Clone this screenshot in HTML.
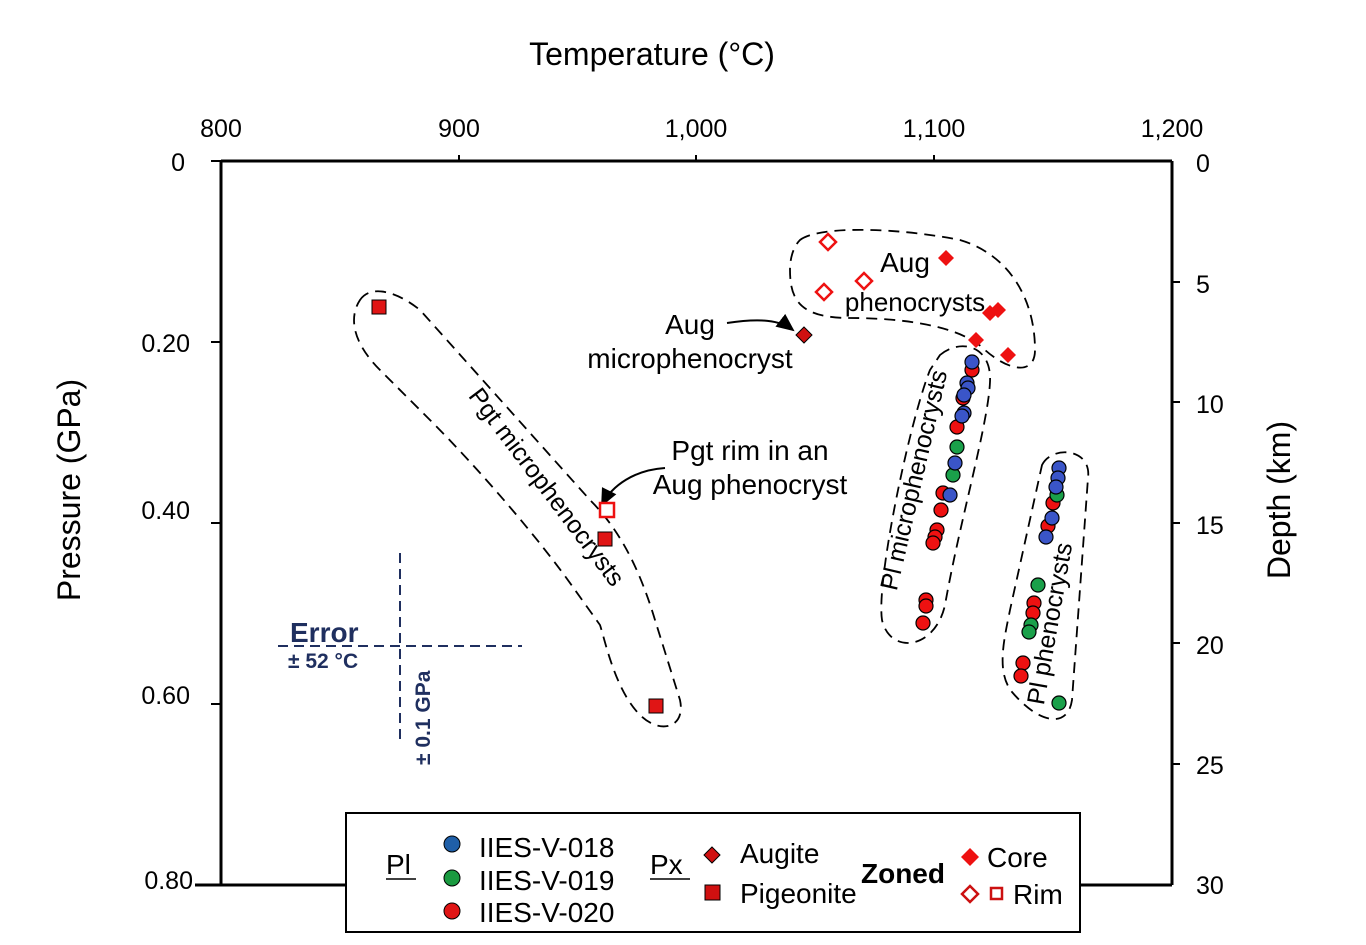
<!DOCTYPE html>
<html><head><meta charset="utf-8"><style>
html,body{margin:0;padding:0;background:#fff;}
svg{display:block;font-family:"Liberation Sans",Arial,sans-serif;}
</style></head><body>
<svg width="1366" height="945" viewBox="0 0 1366 945" xmlns="http://www.w3.org/2000/svg">
<defs>
<marker id="ah" markerWidth="10" markerHeight="10" refX="8" refY="5" orient="auto"><path d="M0,1 L9,5 L0,9 Z" fill="#000"/></marker>
</defs>
<g stroke="#000" stroke-width="3" fill="none">
<line x1="221" y1="161" x2="1172" y2="161"/>
<line x1="221" y1="161" x2="221" y2="885"/>
<line x1="1172" y1="161" x2="1172" y2="885"/>
<line x1="195" y1="885" x2="346" y2="885"/>
<line x1="1080" y1="885" x2="1172" y2="885"/>
</g>
<g stroke="#000" stroke-width="2">
<line x1="459" y1="155" x2="459" y2="161"/><line x1="696" y1="155" x2="696" y2="161"/><line x1="934" y1="155" x2="934" y2="161"/>
<line x1="211" y1="161" x2="221" y2="161"/><line x1="211" y1="342" x2="221" y2="342"/><line x1="211" y1="523" x2="221" y2="523"/><line x1="211" y1="704" x2="221" y2="704"/>
<line x1="1172" y1="282" x2="1180" y2="282"/><line x1="1172" y1="402" x2="1180" y2="402"/><line x1="1172" y1="523" x2="1180" y2="523"/><line x1="1172" y1="643" x2="1180" y2="643"/><line x1="1172" y1="764" x2="1180" y2="764"/>
</g>
<g font-size="25" fill="#000" text-anchor="middle">
<text x="221" y="137">800</text><text x="459" y="137">900</text><text x="696" y="137">1,000</text><text x="934" y="137">1,100</text><text x="1172" y="137">1,200</text>
</g>
<g font-size="25" fill="#000" text-anchor="end">
<text x="185" y="171">0</text><text x="190" y="352">0.20</text><text x="190" y="519">0.40</text><text x="190" y="704">0.60</text><text x="193" y="889">0.80</text>
</g>
<g font-size="25" fill="#000" text-anchor="start">
<text x="1196" y="172">0</text><text x="1196" y="293">5</text><text x="1196" y="413">10</text><text x="1196" y="534">15</text><text x="1196" y="654">20</text><text x="1196" y="774">25</text><text x="1196" y="894">30</text>
</g>
<text x="652" y="65" font-size="32" text-anchor="middle">Temperature (°C)</text>
<text transform="translate(80,490) rotate(-90)" font-size="32" text-anchor="middle">Pressure (GPa)</text>
<text transform="translate(1290,500) rotate(-90)" font-size="32" text-anchor="middle">Depth  (km)</text>

<g fill="none" stroke="#000" stroke-width="1.8" stroke-dasharray="11,7">
<path d="M800,240 C820,225 900,228 960,240 C1010,255 1035,300 1035,350 C1035,375 1010,372 985,350 C960,325 900,318 850,318 C800,318 790,300 790,270 C790,255 795,245 800,240 Z"/>
<path d="M360,300 C370,285 395,290 420,310 L590,500 C620,530 640,570 655,620 L680,700 C686,728 660,735 640,715 C615,690 605,640 600,625 L575,590 C540,540 480,470 430,420 L380,370 C350,340 350,315 360,300 Z"/>
<path d="M940,355 C960,338 992,345 990,382 C988,425 960,520 945,605 C935,650 890,655 882,620 C876,580 910,420 930,370 Z"/>
<path d="M1042,465 C1052,445 1092,448 1088,478 L1072,700 C1068,728 1040,725 1012,692 C996,672 1004,640 1010,610 Z"/>
</g>
<g font-size="25" fill="#000">
<text transform="translate(540,492) rotate(53)" text-anchor="middle">Pgt microphenocrysts</text>
<text transform="translate(922,482) rotate(-77)" text-anchor="middle">Pl microphenocrysts</text>
<text transform="translate(1058,625) rotate(-80)" text-anchor="middle">Pl phenocrysts</text>
<text x="905" y="272" font-size="28" text-anchor="middle">Aug</text>
<text x="915" y="311" font-size="26" text-anchor="middle">phenocrysts</text>
<text x="690" y="334" font-size="28" text-anchor="middle">Aug</text>
<text x="690" y="368" font-size="28" text-anchor="middle">microphenocryst</text>
<text x="750" y="460" font-size="28" text-anchor="middle">Pgt rim in an</text>
<text x="750" y="494" font-size="28" text-anchor="middle">Aug phenocryst</text>
</g>
<g fill="none" stroke="#000" stroke-width="2">
<path d="M727,323 C760,318 780,320 793,330" marker-end="url(#ah)"/>
<path d="M665,468 C635,470 612,485 602,505" marker-end="url(#ah)"/>
</g>
<g stroke="#1f2f5f" stroke-width="2" stroke-dasharray="10,6" fill="none">
<line x1="278" y1="646" x2="522" y2="646"/><line x1="400" y1="553" x2="400" y2="740"/>
</g>
<g fill="#1f2f5f" font-weight="bold">
<text x="290" y="642" font-size="28">Error</text>
<text x="288" y="668" font-size="21">± 52 °C</text>
<text transform="translate(430,765) rotate(-90)" font-size="21">± 0.1 GPa</text>
</g>
<g stroke="#000" stroke-width="1.2">
<g fill="#ee1111">
<circle cx="972" cy="370" r="7"/><circle cx="963" cy="398" r="7"/><circle cx="957" cy="427" r="7"/><circle cx="943" cy="493" r="7"/><circle cx="941" cy="510" r="7"/><circle cx="937" cy="530" r="7"/><circle cx="935" cy="537" r="7"/><circle cx="933" cy="543" r="7"/><circle cx="926" cy="600" r="7"/><circle cx="926" cy="606" r="7"/><circle cx="923" cy="623" r="7"/>
<circle cx="1053" cy="503" r="7"/><circle cx="1048" cy="526" r="7"/><circle cx="1034" cy="603" r="7"/><circle cx="1033" cy="613" r="7"/><circle cx="1023" cy="663" r="7"/><circle cx="1021" cy="676" r="7"/>
</g>
<g fill="#1aa04a">
<circle cx="957" cy="447" r="7"/><circle cx="953" cy="475" r="7"/><circle cx="1057" cy="495" r="7"/><circle cx="1038" cy="585" r="7"/><circle cx="1031" cy="625" r="7"/><circle cx="1029" cy="632" r="7"/><circle cx="1059" cy="703" r="7"/>
</g>
<g fill="#3a55c8">
<circle cx="972" cy="362" r="7"/><circle cx="967" cy="383" r="7"/><circle cx="968" cy="388" r="7"/><circle cx="964" cy="395" r="7"/><circle cx="964" cy="413" r="7"/><circle cx="962" cy="416" r="7"/><circle cx="955" cy="463" r="7"/><circle cx="950" cy="495" r="7"/>
<circle cx="1059" cy="468" r="7"/><circle cx="1058" cy="478" r="7"/><circle cx="1056" cy="487" r="7"/><circle cx="1052" cy="518" r="7"/><circle cx="1046" cy="537" r="7"/>
</g>
</g>
<g fill="#ee1111" stroke="none">
<path d="M946,250 l8,8 l-8,8 l-8,-8 Z"/><path d="M990,305 l8,8 l-8,8 l-8,-8 Z"/><path d="M998,302 l8,8 l-8,8 l-8,-8 Z"/><path d="M976,332 l8,8 l-8,8 l-8,-8 Z"/><path d="M1008,347 l8,8 l-8,8 l-8,-8 Z"/>
</g>
<path d="M804,327 l8,8 l-8,8 l-8,-8 Z" fill="#d01010" stroke="#000" stroke-width="1"/>
<g fill="#fff" stroke="#ee1111" stroke-width="2.5">
<path d="M828,234 l8,8 l-8,8 l-8,-8 Z"/><path d="M864,273 l8,8 l-8,8 l-8,-8 Z"/><path d="M824,284 l8,8 l-8,8 l-8,-8 Z"/>
<rect x="600" y="503" width="14" height="14"/>
</g>
<g fill="#e01515" stroke="#000" stroke-width="1">
<rect x="372" y="300" width="14" height="14"/><rect x="598" y="532" width="14" height="14"/><rect x="649" y="699" width="14" height="14"/>
</g>
<rect x="346" y="813" width="734" height="119" fill="#fff" stroke="#000" stroke-width="2"/>
<g font-size="28" fill="#000">
<text x="386" y="874">Pl</text><line x1="386" y1="879" x2="416" y2="879" stroke="#000" stroke-width="1.5"/>
<text x="479" y="857">IIES-V-018</text><text x="479" y="890">IIES-V-019</text><text x="479" y="922">IIES-V-020</text>
<text x="650" y="874">Px</text><line x1="650" y1="879" x2="690" y2="879" stroke="#000" stroke-width="1.5"/>
<text x="740" y="863">Augite</text><text x="740" y="903">Pigeonite</text>
<text x="861" y="883" font-weight="bold">Zoned</text>
<text x="987" y="867">Core</text><text x="1013" y="904">Rim</text>
</g>
<circle cx="452" cy="844" r="8" fill="#1f5fa8" stroke="#000"/>
<circle cx="452" cy="878" r="8" fill="#1a9a40" stroke="#000"/>
<circle cx="452" cy="911" r="8" fill="#e01515" stroke="#000"/>
<path d="M712,847 l8,8 l-8,8 l-8,-8 Z" fill="#d01010" stroke="#000"/>
<rect x="705" y="885" width="15" height="15" fill="#d01010" stroke="#000"/>
<path d="M970,848 l9,9 l-9,9 l-9,-9 Z" fill="#ee1111"/>
<path d="M970,886 l8,8 l-8,8 l-8,-8 Z" fill="#fff" stroke="#cc1111" stroke-width="2.5"/>
<rect x="991" y="888" width="11" height="11" fill="#fff" stroke="#cc1111" stroke-width="2.5"/>
</svg>
</body></html>
